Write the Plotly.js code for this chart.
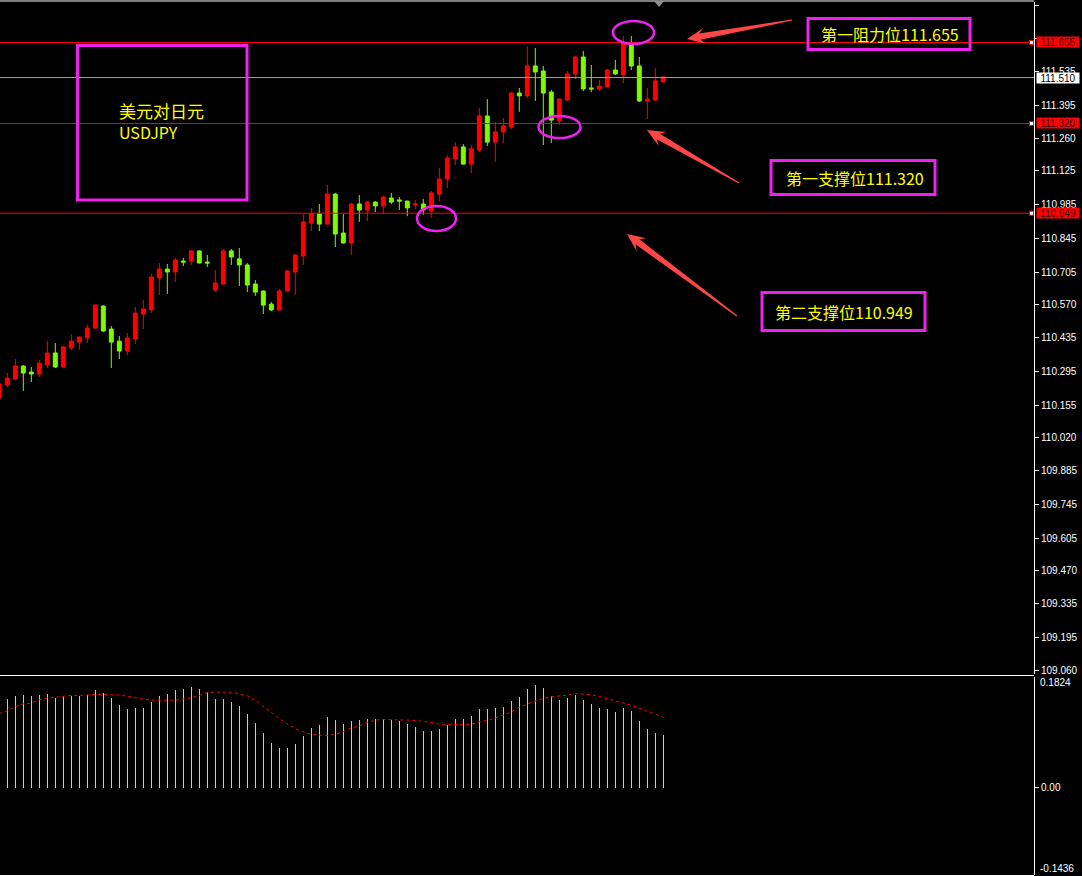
<!DOCTYPE html>
<html><head><meta charset="utf-8">
<script src="https://cdn.plot.ly/plotly-3.0.1.min.js"></script>
<style>html,body{margin:0;padding:0;background:#000;}#chart{width:1082px;height:876px;}</style>
</head><body><div id="chart"></div>
<script>
// ---------- DATA ----------
const barIndex = [-1,0,1,2,3,4,5,6,7,8,9,10,11,12,13,14,15,16,17,18,19,20,21,22,23,24,25,26,27,28,29,30,31,32,33,34,35,36,37,38,39,40,41,42,43,44,45,46,47,48,49,50,51,52,53,54,55,56,57,58,59,60,61,62,63,64,65,66,67,68,69,70,71,72,73,74,75,76,77,78,79,80,81,82];
const openPrice = [110.185,110.239,110.263,110.317,110.292,110.284,110.321,110.371,110.313,110.392,110.416,110.433,110.474,110.565,110.470,110.420,110.379,110.429,110.532,110.549,110.681,110.718,110.706,110.751,110.751,110.793,110.747,110.631,110.656,110.793,110.760,110.735,110.656,110.627,110.573,110.549,110.627,110.706,110.772,110.908,110.946,110.904,111.028,110.867,110.826,110.987,110.962,110.995,110.979,111.012,111.004,110.999,110.983,110.987,110.958,111.028,111.090,111.173,111.223,111.152,111.210,111.351,111.243,111.285,111.305,111.446,111.434,111.558,111.537,111.450,111.330,111.417,111.525,111.595,111.467,111.463,111.471,111.541,111.521,111.649,111.558,111.413,111.417,111.492];
const highPrice = [110.251,110.288,110.346,110.321,110.313,110.342,110.420,110.412,110.398,110.449,110.441,110.487,110.571,110.569,110.482,110.441,110.454,110.561,110.590,110.698,110.743,110.739,110.764,110.764,110.795,110.795,110.776,110.714,110.801,110.801,110.805,110.743,110.673,110.629,110.582,110.636,110.714,110.780,110.946,110.971,110.987,111.066,111.033,110.946,110.991,111.024,110.999,110.999,111.020,111.033,111.016,111.001,111.004,111.008,111.041,111.136,111.190,111.243,111.235,111.231,111.384,111.421,111.326,111.343,111.450,111.467,111.640,111.632,111.558,111.459,111.423,111.537,111.599,111.620,111.562,111.500,111.545,111.583,111.682,111.682,111.595,111.467,111.549,111.512];
const lowPrice = [110.177,110.230,110.259,110.214,110.251,110.272,110.309,110.309,110.311,110.383,110.383,110.412,110.470,110.458,110.309,110.346,110.363,110.408,110.470,110.536,110.611,110.615,110.664,110.731,110.735,110.741,110.727,110.623,110.654,110.735,110.648,110.623,110.607,110.532,110.544,110.544,110.625,110.611,110.735,110.875,110.875,110.902,110.809,110.824,110.776,110.913,110.917,110.954,110.946,110.987,110.962,110.937,110.966,110.942,110.929,110.999,111.053,111.148,111.150,111.115,111.202,111.227,111.161,111.239,111.297,111.368,111.425,111.413,111.231,111.239,111.314,111.413,111.504,111.454,111.450,111.454,111.471,111.521,111.487,111.541,111.409,111.339,111.413,111.492];
const closePrice = [110.243,110.267,110.317,110.288,110.284,110.329,110.371,110.313,110.396,110.420,110.437,110.474,110.569,110.462,110.416,110.379,110.433,110.536,110.553,110.685,110.718,110.706,110.755,110.747,110.793,110.743,110.743,110.660,110.793,110.768,110.735,110.652,110.623,110.569,110.549,110.627,110.710,110.776,110.913,110.946,110.904,111.028,110.863,110.826,110.987,110.962,110.995,110.979,111.016,110.995,110.999,110.971,110.987,110.962,111.033,111.090,111.177,111.223,111.152,111.215,111.351,111.243,111.285,111.310,111.446,111.434,111.558,111.533,111.446,111.334,111.421,111.525,111.595,111.463,111.463,111.475,111.541,111.525,111.653,111.558,111.413,111.421,111.496,111.512];

const oscHist = [0.1465,0.1515,0.1532,0.1515,0.1532,0.1548,0.1482,0.1515,0.1515,0.1515,
  0.1532,0.1615,0.1565,0.1482,0.1365,0.1298,0.1315,0.1315,0.1415,0.1515,
  0.1548,0.1615,0.1632,0.1665,0.1632,0.1582,0.1465,0.1465,0.1415,0.1348,
  0.1214,0.1064,0.0897,0.0730,0.0663,0.0663,0.0713,0.0847,0.0980,0.1030,
  0.1164,0.1114,0.1047,0.1097,0.1114,0.1131,0.1131,0.1131,0.1114,0.1097,
  0.1047,0.0997,0.0930,0.0930,0.0964,0.1030,0.1131,0.1131,0.1181,0.1298,
  0.1298,0.1315,0.1331,0.1431,0.1498,0.1632,0.1699,0.1649,0.1515,0.1448,
  0.1482,0.1532,0.1448,0.1381,0.1315,0.1298,0.1248,0.1315,0.1264,0.1097,
  0.0964,0.0897,0.0863];
const oscSignal = [0.1220,
  0.1270,0.1337,0.1381,0.1393,0.1448,0.1476,0.1493,0.1509,0.1521,0.1521,
  0.1532,0.1537,0.1537,0.1537,0.1526,0.1509,0.1482,0.1459,0.1443,0.1443,
  0.1443,0.1443,0.1459,0.1482,0.1521,0.1565,0.1576,0.1576,0.1571,0.1548,
  0.1515,0.1437,0.1342,0.1242,0.1142,0.1047,0.0975,0.0919,0.0880,0.0863,
  0.0858,0.0880,0.0925,0.0986,0.1019,0.1075,0.1114,0.1125,0.1125,0.1125,
  0.1114,0.1108,0.1092,0.1075,0.1047,0.1042,0.1042,0.1042,0.1047,0.1086,
  0.1108,0.1153,0.1192,0.1253,0.1326,0.1381,0.1426,0.1470,0.1498,0.1509,
  0.1526,0.1554,0.1548,0.1532,0.1504,0.1465,0.1420,0.1393,0.1359,0.1309,
  0.1259,0.1203,0.1159];

// 111.670 sits fully under the resistance price tag in the reference, so its label is blank
const priceTicks = [111.810,111.670,111.535,111.395,111.260,111.125,110.985,110.845,110.705,110.570,110.435,110.295,110.155,110.020,109.885,109.745,109.605,109.470,109.335,109.195,109.060];
const priceTickText = ['111.810','','111.535','111.395','111.260','111.125','110.985','110.845','110.705','110.570','110.435','110.295','110.155','110.020','109.885','109.745','109.605','109.470','109.335','109.195','109.060'];
const levelValues = [111.655, 111.320, 110.949];
const levelLabels = ['111.655','111.320','110.949'];
const currentPrice = 111.510;
const currentLabel = '111.510';
const oscTop = 0.1824, oscBottom = -0.1436;
const oscLabels = ['0.1824','0.00','-0.1436'];
const titleLines = ['美元对日元','USDJPY'];
const levelNotes = ['第一阻力位111.655','第一支撑位111.320','第二支撑位110.949'];

// ---------- LAYOUT HELPERS (pixel positions -> paper) ----------
const W = 1082, H = 876, PW = 1034;
const fx = x => x / PW;
const fy = y => 1 - y / H;
const u = (111.810 - 109.060) / 665;           // price per pixel
const priceRange = [109.060 - 4 * u, 111.810 + 3 * u];
const histIndex = barIndex.slice(1);

const RED = '#ff0000', GREEN = '#7cfc00', MAG = '#ee22ee', YEL = '#ffff00', ARROW = '#ff4646';

function arrowPath(tip, tail) {
  const dx = tail[0] - tip[0], dy = tail[1] - tip[1];
  const L = Math.hypot(dx, dy), ux = dx / L, uy = dy / L, nx = -uy, ny = ux;
  const head = 13, back = 18, hw = 8, sw = 3.2, tw = 0.6;
  const pts = [
    [tail[0] + nx * tw, tail[1] + ny * tw],
    [tip[0] + ux * head + nx * sw, tip[1] + uy * head + ny * sw],
    [tip[0] + ux * back + nx * hw, tip[1] + uy * back + ny * hw],
    [tip[0], tip[1]],
    [tip[0] + ux * back - nx * hw, tip[1] + uy * back - ny * hw],
    [tip[0] + ux * head - nx * sw, tip[1] + uy * head - ny * sw],
    [tail[0] - nx * tw, tail[1] - ny * tw]
  ];
  return 'M ' + pts.map(p => fx(p[0]).toFixed(5) + ',' + fy(p[1]).toFixed(5)).join(' L ') + ' Z';
}
function rectPx(x0, y0, x1, y1, color, width) {
  return {type: 'rect', xref: 'paper', yref: 'paper', x0: fx(x0), x1: fx(x1), y0: fy(y1), y1: fy(y0),
          line: {color: color, width: width}, fillcolor: 'rgba(0,0,0,0)'};
}
function ellipsePx(x0, y0, x1, y1) {
  return {type: 'circle', xref: 'paper', yref: 'paper', x0: fx(x0), x1: fx(x1), y0: fy(y1), y1: fy(y0),
          line: {color: MAG, width: 2.5}};
}
function hLinePx(y, color) {
  return {type: 'line', xref: 'paper', yref: 'paper', x0: 0, x1: 1, y0: fy(y), y1: fy(y), line: {color: color, width: 1}};
}

// ---------- TRACES ----------
const traces = [
  {type: 'candlestick', x: barIndex, open: openPrice, high: highPrice, low: lowPrice, close: closePrice,
   xaxis: 'x', yaxis: 'y', whiskerwidth: 0, hoverinfo: 'skip',
   increasing: {line: {color: RED, width: 1}, fillcolor: RED},
   decreasing: {line: {color: GREEN, width: 1}, fillcolor: GREEN}},
  {type: 'bar', x: histIndex, y: oscHist, xaxis: 'x', yaxis: 'y2', width: 0.14,
   marker: {color: '#c8c8c8', line: {width: 0}}, hoverinfo: 'skip'},
  {type: 'scatter', mode: 'lines', x: barIndex, y: oscSignal, xaxis: 'x', yaxis: 'y2',
   line: {color: RED, width: 1, dash: 'dot'}, hoverinfo: 'skip'}
];

// ---------- SHAPES ----------
const shapes = [];
shapes.push(hLinePx(1, '#ffffff'));
shapes.push(hLinePx(675.5, '#ffffff'));
shapes.push(hLinePx(875.5, '#ffffff'));
levelValues.forEach(v => shapes.push({type: 'line', xref: 'paper', yref: 'y', x0: 0, x1: 1, y0: v, y1: v, line: {color: RED, width: 1}}));
shapes.push({type: 'line', xref: 'paper', yref: 'y', x0: 0, x1: 1, y0: currentPrice, y1: currentPrice, line: {color: '#a0a0a0', width: 1}});
levelValues.forEach(v => shapes.push({type: 'rect', xref: 'paper', yref: 'y', x0: fx(1029.5), x1: fx(1033.5), y0: v - 2 * u, y1: v + 2 * u,
  line: {color: RED, width: 1}, fillcolor: '#ffffff'}));
// top marker triangle
shapes.push({type: 'path', xref: 'paper', yref: 'paper',
  path: 'M ' + fx(654) + ',' + fy(1) + ' L ' + fx(664) + ',' + fy(1) + ' L ' + fx(659) + ',' + fy(7) + ' Z',
  fillcolor: '#8a8f96', line: {width: 0}});
// boxes
shapes.push(rectPx(77.5, 45.5, 247, 200, MAG, 3));
shapes.push(rectPx(808, 18.5, 970, 49.5, MAG, 3));
shapes.push(rectPx(771, 160.5, 935, 194.5, MAG, 3));
shapes.push(rectPx(762, 292.5, 925, 330.5, MAG, 3));
// ellipses
shapes.push(ellipsePx(613, 21, 654, 44));
shapes.push(ellipsePx(538.5, 116, 580.5, 138));
shapes.push(ellipsePx(417, 206, 456, 231));
// arrows
[[[687, 39], [792, 20]], [[647, 130], [739, 183]], [[627, 234], [737, 316]]].forEach(a =>
  shapes.push({type: 'path', xref: 'paper', yref: 'paper', path: arrowPath(a[0], a[1]), fillcolor: ARROW, line: {width: 0}}));

// ---------- ANNOTATIONS ----------
const annotations = [];
const axisFont = {family: 'Liberation Sans, Arial, sans-serif', size: 10};
levelValues.forEach((v, i) => annotations.push({xref: 'paper', yref: 'y', x: fx(1036), y: v, xanchor: 'left', yanchor: 'middle',
  text: levelLabels[i], showarrow: false, bgcolor: RED, borderpad: 0, width: 42, height: 10, align: 'center',
  font: Object.assign({color: '#300000'}, axisFont)}));
annotations.push({xref: 'paper', yref: 'y', x: fx(1036), y: currentPrice, xanchor: 'left', yanchor: 'middle',
  text: currentLabel, showarrow: false, bgcolor: '#ffffff', borderpad: 0, width: 42, height: 10, align: 'center',
  font: Object.assign({color: '#000000'}, axisFont)});
annotations.push({xref: 'paper', yref: 'paper', x: fx(1038), y: fy(682), xanchor: 'left', yanchor: 'middle',
  text: oscLabels[0], showarrow: false, font: Object.assign({color: '#ffffff'}, axisFont)});
annotations.push({xref: 'paper', yref: 'paper', x: fx(1038), y: fy(868), xanchor: 'left', yanchor: 'middle',
  text: oscLabels[2], showarrow: false, font: Object.assign({color: '#ffffff'}, axisFont)});
const cjk = 'Noto Sans CJK SC, sans-serif';
annotations.push({xref: 'paper', yref: 'paper', x: fx(117), y: fy(120.5), xanchor: 'left', yanchor: 'middle', align: 'left',
  text: '<span style="font-size:17px">' + titleLines[0] + '</span><br>' + titleLines[1],
  showarrow: false, font: {family: cjk, size: 16, color: YEL}});
[[819, 34], [784, 178], [773, 312]].forEach((p, i) => annotations.push({xref: 'paper', yref: 'paper', x: fx(p[0]), y: fy(p[1]),
  xanchor: 'left', yanchor: 'middle', text: levelNotes[i], showarrow: false, font: {family: cjk, size: 16, color: YEL}}));

// ---------- LAYOUT ----------
const layout = {
  width: W, height: H, margin: {l: 0, r: W - PW, t: 0, b: 0},
  paper_bgcolor: '#000000', plot_bgcolor: '#000000', showlegend: false,
  boxgap: 0.3, boxgroupgap: 0.3, bargap: 0,
  xaxis: {domain: [0, 1], range: [-7.3 / 8, -7.3 / 8 + PW / 8], anchor: 'y2', showgrid: false, zeroline: false,
          showticklabels: false, ticks: '', showline: false, rangeslider: {visible: false}},
  yaxis: {domain: [fy(674), fy(2)], range: priceRange, side: 'right', anchor: 'x', showgrid: false, zeroline: false,
          showline: true, linecolor: '#ffffff', linewidth: 1, ticks: 'outside', ticklen: 4, tickcolor: '#ffffff',
          tickvals: priceTicks, ticktext: priceTickText, tickfont: Object.assign({color: '#ffffff'}, axisFont)},
  yaxis2: {domain: [fy(875), fy(677)], range: [oscBottom, oscTop], side: 'right', anchor: 'x', showgrid: false, zeroline: false,
           showline: true, linecolor: '#ffffff', linewidth: 1, ticks: 'outside', ticklen: 4, tickcolor: '#ffffff',
           tickvals: [0], ticktext: [oscLabels[1]], tickfont: Object.assign({color: '#ffffff'}, axisFont)},
  shapes: shapes, annotations: annotations
};

Plotly.newPlot('chart', traces, layout, {displayModeBar: false, staticPlot: true});
</script>
</body></html>
